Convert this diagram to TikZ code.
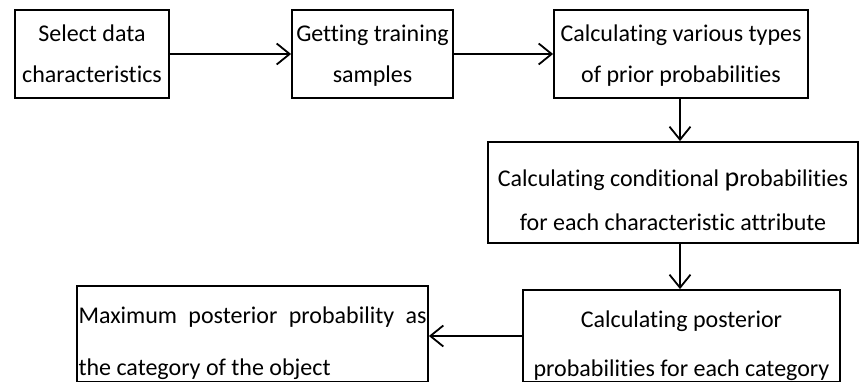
\documentclass[tikz,border=0pt]{standalone}
\usepackage{fontspec}
\setmainfont{Carlito}[Ligatures=NoCommon]
\usetikzlibrary{arrows.meta}
\begin{document}
\begin{tikzpicture}[x=1pt, y=-1pt, line width=1.8pt,
		>={Straight Barb[length=13pt, width=21pt]},
		stepbox/.style={rectangle, draw, inner sep=0pt, align=flush center,
			font=\fontsize{24}{41}\selectfont},
		toprow/.style={stepbox, minimum height=88pt, text height=23pt, text depth=47pt}]
		\useasboundingbox (0,0) rectangle (859,382);
		% top row, left to right
		\node[toprow, minimum width=154pt, text width=152pt] (sel)   at (92,54)    {Select data\\characteristics};
		\node[toprow, minimum width=161pt, text width=159pt] (train) at (372.5,54) {\makebox[\linewidth]{Getting training}\\samples};
		\node[toprow, minimum width=254pt, text width=252pt] (prior) at (681,54)   {Calculating various types\\of prior probabilities};
		% right column going down
		\node[stepbox, minimum width=370pt, minimum height=101pt, text width=366pt,
			text height=37pt, text depth=50pt, font=\fontsize{24}{44}\selectfont] (cond) at (673,192.5)
			{Calculating conditional {\fontsize{28}{28}\selectfont p}robabilities\\for each characteristic attribute};
		\node[stepbox, minimum width=317pt, minimum height=92pt, text width=313pt,
			text height=37pt, text depth=55pt, font=\fontsize{24}{49}\selectfont] (post) at (681.5,336)
			{Calculating posterior\\probabilities for each category};
		% result, bottom left
		\node[stepbox, minimum width=351pt, minimum height=96pt, text width=348pt, align=justify,
			text height=36pt, text depth=58pt, font=\fontsize{24}{52}\selectfont] (maxp) at (252.5,334)
			{Maximum posterior probability as\linebreak the category of the object};
		\draw[->] (sel) -- (train);
		\draw[->] (train) -- (prior);
		\draw[->] (prior.south -| 680,0) -- (cond.north -| 680,0);
		\draw[->] (cond.south -| 680,0) -- (post.north -| 680,0);
		\draw[->] (post.west) -- (post.west -| maxp.east);
	\end{tikzpicture}
\end{document}
